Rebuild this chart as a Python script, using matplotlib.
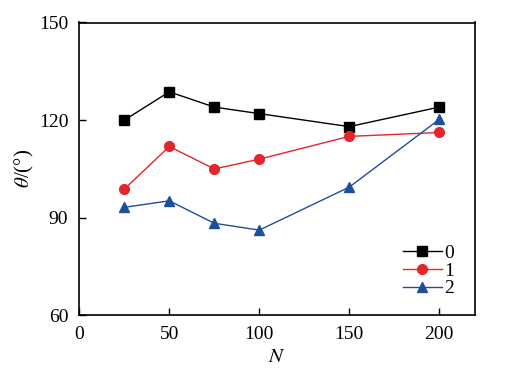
import matplotlib
matplotlib.use("Agg")
import matplotlib.pyplot as plt

plt.rcParams['font.family'] = ['Liberation Serif', 'DejaVu Serif']
plt.rcParams['mathtext.fontset'] = 'stix'

N = [25, 50, 75, 100, 150, 200]
theta_0 = [120, 128.7, 124, 122, 118, 124]
theta_1 = [98.8, 111.9, 105, 108, 115, 116.2]
theta_2 = [93.2, 95.2, 88.3, 86.2, 99.4, 120.2]
labels = ['0', '1', '2']

fig = plt.figure(figsize=(5.12, 3.75), dpi=100)
ax = fig.add_axes([0.155, 0.159, 0.773, 0.781])

ax.plot(N, theta_0, color='black', marker='s', markersize=7, lw=1, label=labels[0])
ax.plot(N, theta_1, color='#e3262b', marker='o', markersize=7, lw=1, label=labels[1])
ax.plot(N, theta_2, color='#1f4e9c', marker='^', markersize=7, lw=1, label=labels[2])

ax.set_xlim(0, 220)
ax.set_ylim(60, 150)
ax.set_xticks([0, 50, 100, 150, 200])
ax.set_yticks([60, 90, 120, 150])
ax.tick_params(direction='in', labelsize=14, length=5, width=1, pad=8)
for s in ax.spines.values():
    s.set_linewidth(1.2)

ax.set_xlabel('$N$', fontsize=15, labelpad=3)
ax.set_ylabel(r'$\theta$/(°)', fontsize=15, labelpad=2)

ax.legend(loc='lower right', frameon=False, fontsize=14, handlelength=2.0,
          handletextpad=0.15, labelspacing=0.0, borderaxespad=0,
          bbox_to_anchor=(0.967, 0.035))

fig.savefig('out.png', dpi=100)
